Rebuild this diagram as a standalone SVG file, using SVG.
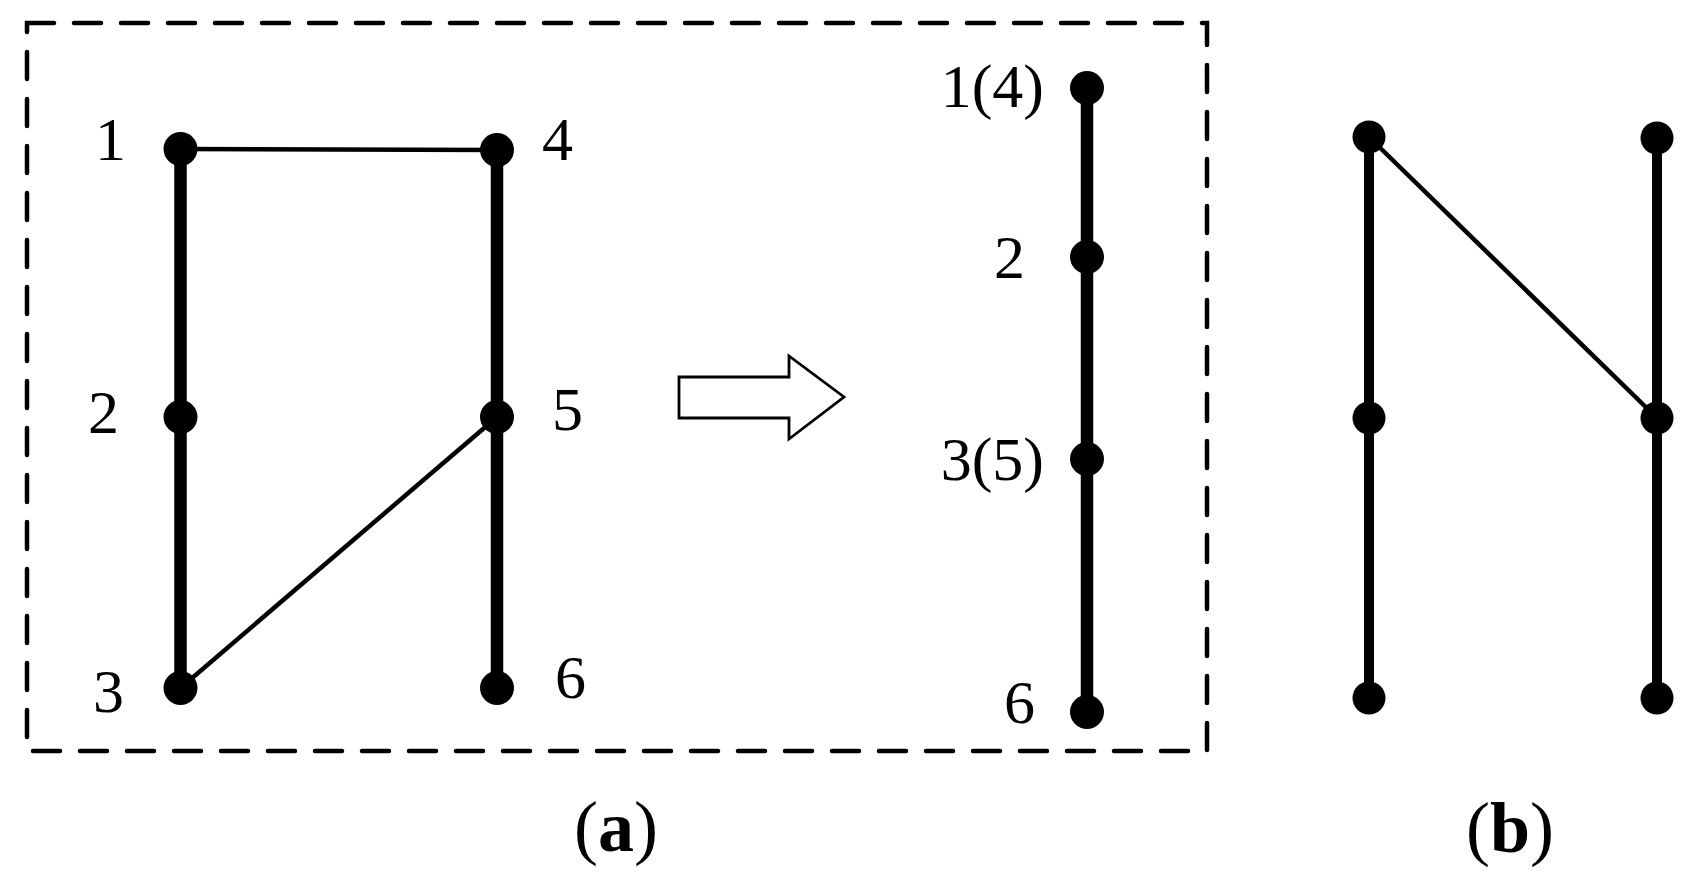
<svg xmlns="http://www.w3.org/2000/svg" width="1687" height="891" viewBox="0 0 1687 891">
<style>
.thick{stroke:#000;stroke-width:12.5;fill:none}
.thickb{stroke:#000;stroke-width:10;fill:none}
.thin{stroke:#000;stroke-width:4.5;fill:none}
.dot{fill:#000}
.lbl{font-family:"Liberation Serif","Times New Roman",serif;font-size:62px;fill:#000}
.cap{font-family:"Liberation Serif","Times New Roman",serif;font-size:72px;fill:#000}
.frame{fill:none;stroke:#000;stroke-width:4.5;stroke-dasharray:27 20;stroke-linecap:round}
</style>
<rect width="1687" height="891" fill="#fff"/>
<rect class="frame" x="27" y="23" width="1180" height="728"/>
<g id="connectors">
  <line class="thick" x1="180.5" y1="149" x2="180.5" y2="688"/>
  <line class="thick" x1="497" y1="150" x2="497" y2="688"/>
  <line class="thin" x1="180.5" y1="149" x2="497" y2="150"/>
  <line class="thin" x1="180.5" y1="688" x2="497" y2="417"/>
  <line class="thick" x1="1087" y1="88" x2="1087" y2="712"/>
  <line class="thickb" x1="1369" y1="137" x2="1369" y2="698"/>
  <line class="thickb" x1="1657" y1="138" x2="1657" y2="698"/>
  <line class="thin" x1="1369" y1="137" x2="1657" y2="418"/>
</g>
<g id="arrow">
  <polygon points="679,377 789,377 789,356 844,397 789,439 789,418 679,418" fill="#fff" stroke="#000" stroke-width="2.8"/>
</g>
<g id="a-node1"><circle class="dot" cx="180.5" cy="149" r="17"/><text class="lbl" x="95" y="160">1</text></g>
<g id="a-node2"><circle class="dot" cx="180.5" cy="417" r="17"/><text class="lbl" x="88" y="433">2</text></g>
<g id="a-node3"><circle class="dot" cx="180.5" cy="688" r="17"/><text class="lbl" x="93" y="712">3</text></g>
<g id="a-node4"><circle class="dot" cx="497" cy="150" r="17"/><text class="lbl" x="542" y="160">4</text></g>
<g id="a-node5"><circle class="dot" cx="497" cy="417" r="17"/><text class="lbl" x="552" y="430">5</text></g>
<g id="a-node6"><circle class="dot" cx="497" cy="688" r="17"/><text class="lbl" x="555" y="698">6</text></g>
<g id="m-node14"><circle class="dot" cx="1087" cy="88" r="17"/><text class="lbl" x="1044" y="107" text-anchor="end">1(4)</text></g>
<g id="m-node2"><circle class="dot" cx="1087" cy="257" r="17"/><text class="lbl" x="1025" y="278" text-anchor="end">2</text></g>
<g id="m-node35"><circle class="dot" cx="1087" cy="459" r="17"/><text class="lbl" x="1044" y="480" text-anchor="end">3(5)</text></g>
<g id="m-node6"><circle class="dot" cx="1087" cy="712" r="17"/><text class="lbl" x="1035" y="723" text-anchor="end">6</text></g>
<g id="b-node1"><circle class="dot" cx="1369" cy="137" r="16.5"/></g>
<g id="b-node2"><circle class="dot" cx="1369" cy="418" r="16.5"/></g>
<g id="b-node3"><circle class="dot" cx="1369" cy="698" r="16.5"/></g>
<g id="b-node4"><circle class="dot" cx="1657" cy="138" r="16.5"/></g>
<g id="b-node5"><circle class="dot" cx="1657" cy="418" r="16.5"/></g>
<g id="b-node6"><circle class="dot" cx="1657" cy="698" r="16.5"/></g>
<g id="captions">
  <text class="cap" x="616" y="851" text-anchor="middle">(<tspan font-weight="bold">a</tspan>)</text>
  <text class="cap" x="1510" y="852" text-anchor="middle">(<tspan font-weight="bold">b</tspan>)</text>
</g>
</svg>
